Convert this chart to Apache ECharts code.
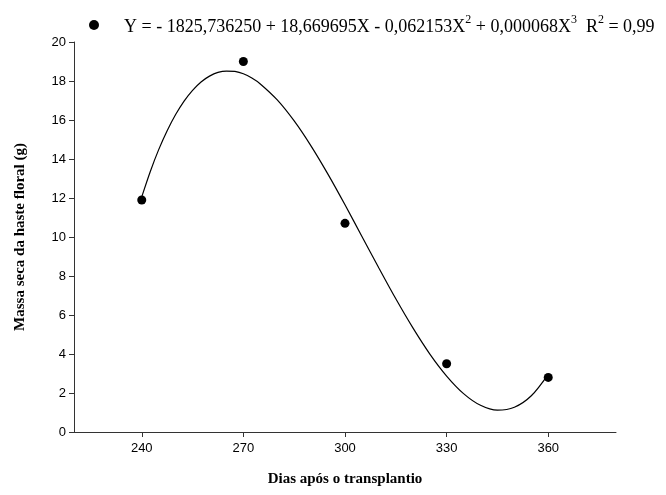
<!DOCTYPE html>
<html>
<head>
<meta charset="utf-8">
<script src="https://cdn.jsdelivr.net/npm/echarts@6/dist/echarts.min.js"></script>
<style>html,body{margin:0;padding:0;background:#fff}#c{width:666px;height:495px}</style>
</head>
<body>
<div id="c"></div>
<script>
const days = [240, 270, 300, 330, 360];
const massa = [11.9, 19.0, 10.7, 3.5, 2.8];
const curveX = [240,242.5,245,247.5,250,252.5,255,257.5,260,262.5,265,267.5,270,272.5,275,280,285,290,295,300,305,310,315,320,325,330,335,340,345,350,355,360];
const curveY = [12.06,13.35,14.48,15.45,16.28,16.97,17.52,17.95,18.25,18.44,18.51,18.49,18.37,18.15,17.85,17.03,15.95,14.66,13.21,11.65,10.03,8.41,6.83,5.35,4.01,2.87,1.97,1.37,1.12,1.27,1.86,2.96];
const xTicks = [240, 270, 300, 330, 360];
const yTicks = [0, 2, 4, 6, 8, 10, 12, 14, 16, 18, 20];
const eqName = 'Y = - 1825,736250 + 18,669695X - 0,062153X2 + 0,000068X3  R2 = 0,99';

const chart = echarts.init(document.getElementById('c'), null, {renderer: 'canvas'});
const axisCol = '#333';
chart.setOption({
  animation: false,
  backgroundColor: '#fff',
  grid: {left: 74, right: 50, top: 42, bottom: 63, containLabel: false},
  legend: {
    show: true,
    left: 84, top: 9,
    itemWidth: 10, itemHeight: 10,
    data: [{name: eqName, icon: 'circle', itemStyle: {color: '#000', opacity: 1}}],
    formatter: function () {
      return '{b|Y = - 1825,736250 + 18,669695X - 0,062153X}{s|2}{b| + 0,000068X}{s|3}{b|  R}{s|2}{b| = 0,99}';
    },
    textStyle: {
      color: '#000',
      fontFamily: 'Liberation Serif',
      fontSize: 18,
      padding: [0, 0, 0, 20],
      rich: {
        b: {fontFamily: 'Liberation Serif', fontSize: 18, color: '#000', lineHeight: 22, verticalAlign: 'bottom'},
        s: {fontFamily: 'Liberation Serif', fontSize: 12, color: '#000', lineHeight: 22, verticalAlign: 'top', padding: [0, 0, 9, 0]}
      }
    }
  },
  xAxis: {
    type: 'value', min: 220, max: 380,
    name: 'Dias após o transplantio', nameLocation: 'middle', nameGap: 40,
    nameTextStyle: {fontFamily: 'Liberation Serif', fontWeight: 'bold', fontSize: 15, color: '#000'},
    axisLine: {show: true, onZero: false, lineStyle: {color: axisCol, width: 1}},
    axisTick: {show: true, length: 5, customValues: xTicks, lineStyle: {color: axisCol}},
    axisLabel: {customValues: xTicks, fontFamily: 'Liberation Sans', fontSize: 13, color: '#000', margin: 10},
    splitLine: {show: false}
  },
  yAxis: {
    type: 'value', min: 0, max: 20, interval: 2,
    name: 'Massa seca da haste floral (g)', nameLocation: 'middle', nameGap: 46, nameRotate: 90,
    nameTextStyle: {fontFamily: 'Liberation Serif', fontWeight: 'bold', fontSize: 15, color: '#000'},
    axisLine: {show: true, lineStyle: {color: axisCol, width: 1}},
    axisTick: {show: true, length: 5, lineStyle: {color: axisCol}},
    axisLabel: {fontFamily: 'Liberation Sans', fontSize: 13, color: '#000', margin: 8},
    splitLine: {show: false}
  },
  series: [
    {
      name: 'curve', type: 'line', smooth: 0.3, showSymbol: false, silent: true,
      data: curveX.map((x, i) => [x, curveY[i]]),
      lineStyle: {color: '#000', width: 1.2}, z: 2
    },
    {
      name: eqName, type: 'scatter', symbol: 'circle', symbolSize: 9,
      data: days.map((d, i) => [d, massa[i]]),
      itemStyle: {color: '#000', opacity: 1}, z: 3
    }
  ]
});
</script>
</body>
</html>
